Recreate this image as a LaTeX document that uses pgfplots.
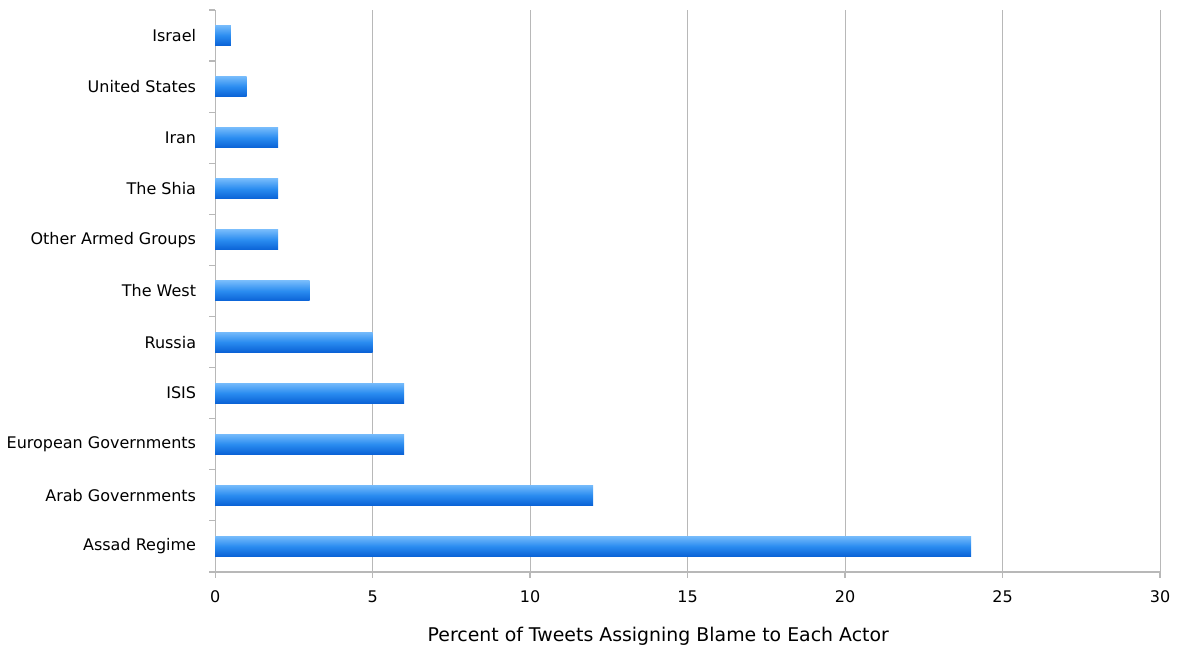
\documentclass[border=0pt]{standalone}
\usepackage{pgfplots}
\pgfplotsset{compat=1.18}
\usetikzlibrary{calc}
\usepackage{fontspec}
\setmainfont{DejaVu Sans}
\definecolor{barTop}{HTML}{74BAFB}
\definecolor{barMid}{HTML}{2A8CF0}
\definecolor{barBot}{HTML}{0A62D6}
\definecolor{gridgray}{HTML}{B8B8B8}

\pgfplotsset{
    blamebar/.style={xbar, bar width=10pt, bar shift=0pt, draw=none,
        top color=barTop, bottom color=barBot, middle color=barMid, forget plot},
}

\begin{document}
\begin{tikzpicture}
\begin{axis}[
    name=ax,
    scale only axis,
    width=472.5pt, height=281pt,
    xmin=0, xmax=30,
    ymin=-0.5, ymax=10.5,
    xtick={0,5,...,30},
    ytick={0,...,10},
    yticklabels={Assad Regime, Arab Governments, European Governments, ISIS, Russia,
        The West, Other Armed Groups, The Shia, Iran, United States, Israel},
    minor ytick={-0.5,0.5,...,10.5},
    every major y tick/.style={draw=none},
    minor tick length=3pt,
    major tick length=3pt,
    tick align=outside,
    axis x line*=bottom,
    axis y line*=left,
    axis line style={gridgray, line width=0.6pt},
    tick style={gridgray, line width=0.6pt},
    xmajorgrids,
    major grid style={gridgray, line width=0.5pt},
    ticklabel style={font=\fontsize{8}{10}\selectfont},
    /pgf/number format/assume math mode=true,
    yticklabel style={xshift=-3pt},
    xticklabel style={yshift=-3pt},
    xlabel={Percent of Tweets Assigning Blame to Each Actor},
    every axis x label/.style={at={(rel axis cs:0.469,0)}, anchor=center, yshift=-32pt,
        font=\fontsize{9.45}{11}\selectfont},
    clip=false,
]
% one plot per bar, so that each bar gets its own shading
\addplot[blamebar] coordinates {(24,0)};   % Assad Regime
\addplot[blamebar] coordinates {(12,1)};   % Arab Governments
\addplot[blamebar] coordinates {(6,2)};    % European Governments
\addplot[blamebar] coordinates {(6,3)};    % ISIS
\addplot[blamebar] coordinates {(5,4)};    % Russia
\addplot[blamebar] coordinates {(3,5)};    % The West
\addplot[blamebar] coordinates {(2,6)};    % Other Armed Groups
\addplot[blamebar] coordinates {(2,7)};    % The Shia
\addplot[blamebar] coordinates {(2,8)};    % Iran
\addplot[blamebar] coordinates {(1,9)};    % United States
\addplot[blamebar] coordinates {(0.5,10)}; % Israel
\end{axis}
\path (ax.south west) ++(-107.5pt,-37.5pt) rectangle ($(ax.north east)+(8.5pt,5pt)$);
\end{tikzpicture}
\end{document}
